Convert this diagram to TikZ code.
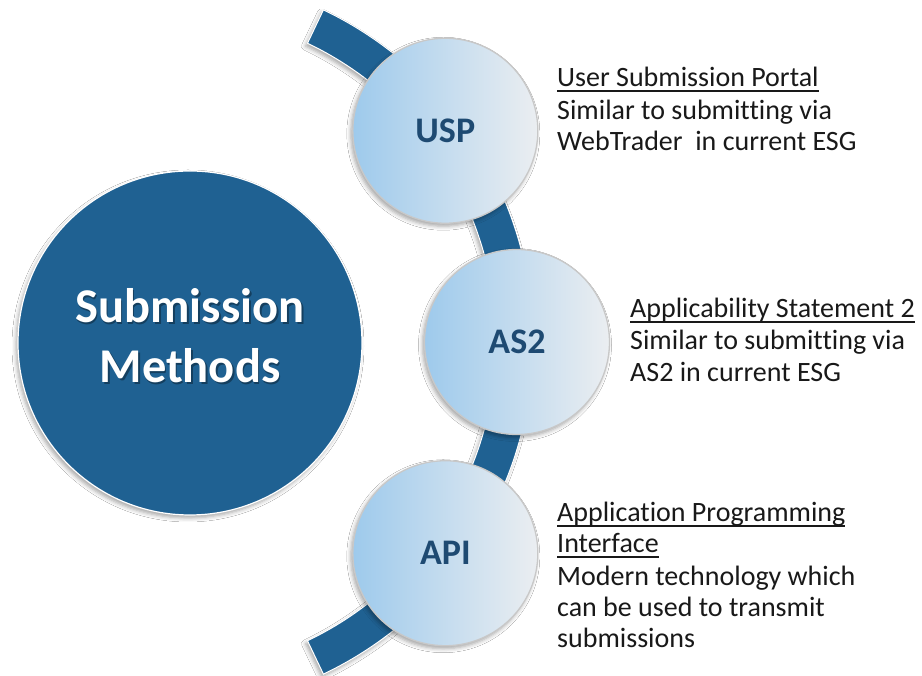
\documentclass[tikz,border=0pt]{standalone}
\usepackage{fontspec}
\setmainfont{Carlito}[Ligatures={NoCommon}]
\usetikzlibrary{calc,shadows.blur}
\definecolor{deepblue}{RGB}{31,97,146}
\definecolor{labelblue}{RGB}{30,74,114}
\definecolor{lightL}{RGB}{158,202,236}
\definecolor{lightR}{RGB}{235,238,241}
\definecolor{rimgray}{RGB}{200,200,200}
\definecolor{txt}{RGB}{25,25,25}
\newcommand{\myul}[1]{\setbox0\hbox{#1}\rlap{\rule[-5pt]{\wd0}{2pt}}\box0}
\begin{document}
\begin{tikzpicture}[x=1pt,y=1pt,
  softshadow/.style={blur shadow={shadow xshift=-2pt,shadow yshift=-3pt,shadow blur radius=4pt,shadow opacity=35}},
  hub/.style={circle, fill=deepblue, draw=white, line width=1.2pt, minimum size=344pt, inner sep=0pt, softshadow},
  bead/.style={circle, left color=lightL, right color=lightR, draw=rimgray, line width=1.3pt, minimum size=185pt, inner sep=0pt, softshadow,
     font=\fontsize{36}{40}\selectfont\bfseries, text=labelblue},
  hubtext/.style={anchor=base, inner sep=0pt, text=white, font=\fontsize{48.5}{58}\selectfont\bfseries},
  hubshade/.style={anchor=base, inner sep=0pt, text=black, opacity=0.35, font=\fontsize{48.5}{58}\selectfont\bfseries},
  line/.style={anchor=base west, inner sep=0pt, text=txt, font=\fontsize{28}{32}\selectfont},
]
\path[use as bounding box, fill=white] (0,0) rectangle (922,676);

% curved band
\coordinate (bc) at (165,334);
\path[fill=deepblue, draw=white, line width=1pt, softshadow]
  ($(bc)+(64.5:331)$) arc[start angle=64.5, end angle=-64.5, radius=331]
  -- ($(bc)+(-64.5:368)$) arc[start angle=-64.5, end angle=64.5, radius=368] -- cycle;

% hub
\node[hub] (hub) at (190,333) {};
\node[hubshade] (hubsa) at (191.5,351.5) {Submission};
\node[hubshade] (hubsb) at (191.5,291.5) {Methods};
\node[hubtext] (huba) at (190,353) {Submission};
\node[hubtext] (hubb) at (190,293) {Methods};

% beads
\node[bead] (usp) at ($(bc)+(37:351)$) {\raisebox{-3pt}{USP}};
\node[bead] (as2) at ($(bc)+(0:352)$) {\raisebox{-3pt}{AS2}};
\node[bead] (api) at ($(bc)+(-37:351)$) {\raisebox{-3pt}{API}};

% descriptions
\node[line] (usph) at (557,589) {\myul{User Submission Portal}};
\node[line] (uspa) at (557,556) {Similar to submitting via};
\node[line] (uspb) at (557,525) {WebTrader~ in current ESG};

\node[line] (as2h) at (630,358) {\myul{Applicability Statement 2}};
\node[line] (as2a) at (630,326) {Similar to submitting via};
\node[line] (as2b) at (630,294) {AS2 in current ESG};

\node[line] (apih) at (557,154) {\myul{Application Programming}};
\node[line] (apii) at (557,123) {\myul{Interface}};
\node[line] (apia) at (557,90) {Modern technology which};
\node[line] (apib) at (557,59) {can be used to transmit};
\node[line] (apic) at (557,28) {submissions};
\end{tikzpicture}
\end{document}
